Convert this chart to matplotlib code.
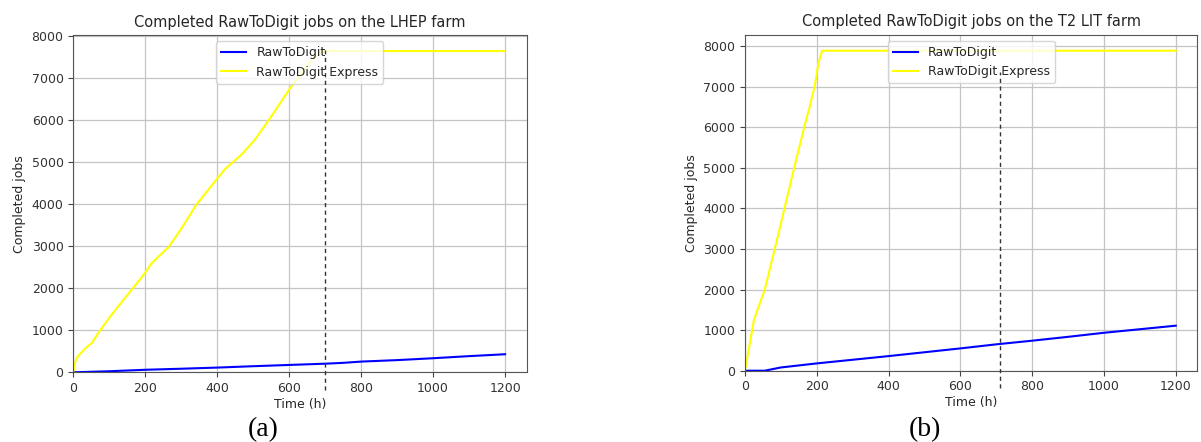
import matplotlib.pyplot as plt

# LHEP farm (a)
lhep_t_express = [0, 4, 9, 17, 35, 51, 74, 102, 139, 162, 199, 218, 266, 304, 342, 371,
                  397, 423, 466, 504, 533, 562, 600, 629, 662, 691, 1200]
lhep_express = [0, 200, 330, 420, 580, 690, 990, 1320, 1720, 1960, 2360, 2600, 2990, 3470,
                3990, 4300, 4580, 4850, 5170, 5530, 5880, 6240, 6730, 7070, 7430, 7650, 7650]
lhep_t = [0, 100, 200, 300, 400, 500, 600, 700, 750, 800, 900, 1000, 1100, 1200]
lhep_raw = [0, 25, 60, 85, 112, 145, 175, 205, 225, 255, 290, 335, 385, 430]

# T2 LIT farm (b)
lit_t_express = [0, 25, 55, 83, 110, 137, 165, 180, 195, 205, 215, 1200]
lit_express = [0, 1250, 2000, 3000, 4000, 5000, 6000, 6500, 7050, 7600, 7890, 7890]
lit_t = [0, 55, 100, 200, 300, 400, 500, 600, 700, 800, 900, 1000, 1200]
lit_raw = [0, 0, 80, 180, 270, 360, 455, 550, 650, 740, 835, 935, 1110]

panels = [
    ("Completed RawToDigit jobs on the LHEP farm", lhep_t, lhep_raw,
     lhep_t_express, lhep_express, 700, 7670, "(a)"),
    ("Completed RawToDigit jobs on the T2 LIT farm", lit_t, lit_raw,
     lit_t_express, lit_express, 710, 7360, "(b)"),
]
rects = [[0.0610, 0.1577, 0.3775, 0.7631], [0.6203, 0.1613, 0.3766, 0.7602]]
letter_x = [263, 925]

plt.rcParams['font.family'] = 'DejaVu Sans'
plt.rcParams['text.color'] = '#262626'
plt.rcParams['axes.labelcolor'] = '#262626'
plt.rcParams['xtick.color'] = '#333333'
plt.rcParams['ytick.color'] = '#333333'

fig = plt.figure(figsize=(12.01, 4.42), dpi=100)
for (title, t, raw, te, ex, vx, vtop, letter), rect, lx in zip(panels, rects, letter_x):
    ax = fig.add_axes(rect)
    ax.plot(t, raw, color='blue', lw=1.5, label='RawToDigit')
    ax.plot(te, ex, color='yellow', lw=1.5, label='RawToDigit Express')
    ax.set_xlim(left=0, right=1260)
    ax.set_ylim(bottom=0)
    ax.grid(True, color='#c4c4c4', lw=0.9)
    ax.set_title(title, fontsize=10.5, pad=6)
    ax.set_xlabel('Time (h)', fontsize=9, labelpad=2)
    ax.set_ylabel('Completed jobs', fontsize=9)
    ax.tick_params(labelsize=9, color='#444444')
    for s in ax.spines.values():
        s.set_color('#555555')
    ax.legend(loc='upper center', fontsize=9)
    ax.plot([vx, vx], [-430, vtop], color='#333333', lw=1, ls=(0, (3, 2.5)),
            clip_on=False, zorder=6)
    fig.text(lx / 1201, 1 - 430 / 442, letter, family='Liberation Serif',
             fontsize=20, ha='center', va='center', color='black')

fig.savefig('out.png', dpi=100)
